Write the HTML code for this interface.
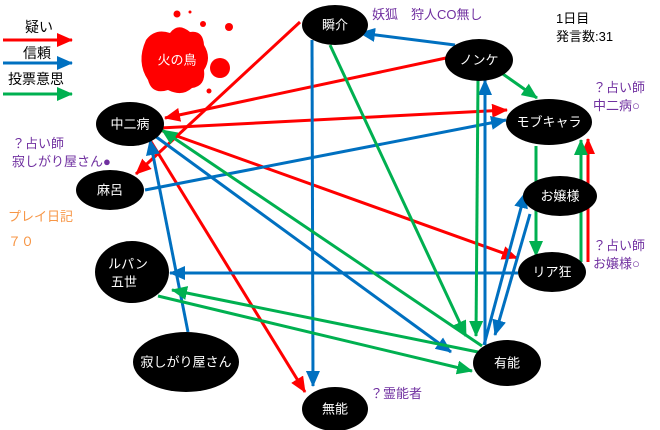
<!DOCTYPE html>
<html><head><meta charset="utf-8"><style>
body{margin:0;background:#fff}
svg{display:block;font-family:"Liberation Sans","Noto Sans CJK JP",sans-serif}
.n{fill:#000}
.t{fill:#fff;font-size:13px;text-anchor:middle;dominant-baseline:central}
.p{fill:#7030a0;font-size:13px}
</style></head><body>
<svg width="660" height="430" viewBox="0 0 660 430">
<defs>
<marker id="r" markerUnits="userSpaceOnUse" markerWidth="16" markerHeight="14" refX="15" refY="7" orient="auto"><path d="M0,0L16,7L0,14z" fill="#ff0000"/></marker>
<marker id="b" markerUnits="userSpaceOnUse" markerWidth="16" markerHeight="14" refX="15" refY="7" orient="auto"><path d="M0,0L16,7L0,14z" fill="#0070c0"/></marker>
<marker id="g" markerUnits="userSpaceOnUse" markerWidth="16" markerHeight="14" refX="15" refY="7" orient="auto"><path d="M0,0L16,7L0,14z" fill="#00b050"/></marker>
</defs>
<!-- legend -->
<text x="25" y="32" font-size="14">疑い</text>
<line x1="3" y1="40" x2="72" y2="40" stroke="#f00" stroke-width="3" marker-end="url(#r)"/>
<text x="23" y="58" font-size="14">信頼</text>
<line x1="3" y1="63" x2="72" y2="63" stroke="#0070c0" stroke-width="3" marker-end="url(#b)"/>
<text x="8" y="84" font-size="14">投票意思</text>
<line x1="3" y1="94" x2="72" y2="94" stroke="#00b050" stroke-width="3" marker-end="url(#g)"/>
<!-- splash -->
<g fill="#f00">
<path d="M146,40 Q155,28 170,33 Q178,22 190,32 Q203,30 204,45 Q212,58 204,70 Q206,86 192,88 Q182,97 168,90 Q152,95 148,80 Q136,62 146,40z"/>
<circle cx="220" cy="68" r="10"/><circle cx="177" cy="14" r="3.5"/><circle cx="203" cy="24" r="3"/><circle cx="229" cy="27" r="4"/><circle cx="209" cy="91" r="2.5"/><circle cx="190" cy="12" r="1.5"/>
</g>
<text x="177" y="60" fill="#fff" font-size="13" text-anchor="middle" dominant-baseline="central">火の鳥</text>
<!-- edges -->
<g stroke-width="3" fill="none">
<line x1="300" y1="22" x2="136" y2="174" stroke="#f00" marker-end="url(#r)"/>
<line x1="446" y1="58" x2="165" y2="118" stroke="#f00" marker-end="url(#r)"/>
<line x1="160" y1="128" x2="507" y2="110" stroke="#f00" marker-end="url(#r)"/>
<line x1="160" y1="130" x2="517" y2="258" stroke="#f00" marker-end="url(#r)"/>
<line x1="150" y1="140" x2="305" y2="392" stroke="#f00" marker-end="url(#r)"/>
<line x1="588" y1="262" x2="588" y2="139" stroke="#f00" marker-end="url(#r)"/>
<line x1="455" y1="45" x2="360" y2="33" stroke="#0070c0" marker-end="url(#b)"/>
<line x1="312" y1="40" x2="313" y2="386" stroke="#0070c0" marker-end="url(#b)"/>
<line x1="145" y1="190" x2="506" y2="120" stroke="#0070c0" marker-end="url(#b)"/>
<line x1="188" y1="332" x2="150" y2="140" stroke="#0070c0" marker-end="url(#b)"/>
<line x1="518" y1="273" x2="170" y2="273" stroke="#0070c0" marker-end="url(#b)"/>
<line x1="155" y1="136" x2="451" y2="352" stroke="#0070c0" marker-end="url(#b)"/>
<line x1="485" y1="345" x2="485" y2="80" stroke="#0070c0" marker-end="url(#b)"/>
<line x1="484" y1="345" x2="525" y2="193" stroke="#0070c0" marker-end="url(#b)"/>
<line x1="530" y1="214" x2="495" y2="335" stroke="#0070c0" marker-end="url(#b)"/>
<line x1="500" y1="72" x2="537" y2="98" stroke="#00b050" marker-end="url(#g)"/>
<line x1="330" y1="45" x2="466" y2="336" stroke="#00b050" marker-end="url(#g)"/>
<line x1="478" y1="80" x2="476" y2="336" stroke="#00b050" marker-end="url(#g)"/>
<line x1="536" y1="146" x2="536" y2="256" stroke="#00b050" marker-end="url(#g)"/>
<line x1="581" y1="262" x2="581" y2="140" stroke="#00b050" marker-end="url(#g)"/>
<line x1="482" y1="346" x2="162" y2="130" stroke="#00b050" marker-end="url(#g)"/>
<line x1="478" y1="352" x2="172" y2="290" stroke="#00b050" marker-end="url(#g)"/>
<line x1="158" y1="296" x2="472" y2="371" stroke="#00b050" marker-end="url(#g)"/>
</g>
<!-- nodes -->
<ellipse class="n" cx="335" cy="25" rx="33" ry="20"/><text class="t" x="335" y="25">瞬介</text>
<ellipse class="n" cx="479" cy="60" rx="34" ry="21"/><text class="t" x="479" y="60">ノンケ</text>
<ellipse class="n" cx="549" cy="122" rx="43" ry="23"/><text class="t" x="549" y="122">モブキャラ</text>
<ellipse class="n" cx="560" cy="196" rx="37" ry="20"/><text class="t" x="560" y="196">お嬢様</text>
<ellipse class="n" cx="552" cy="272" rx="34" ry="20"/><text class="t" x="552" y="272">リア狂</text>
<ellipse class="n" cx="507" cy="363" rx="34" ry="23"/><text class="t" x="507" y="363">有能</text>
<ellipse class="n" cx="335" cy="409" rx="33" ry="22"/><text class="t" x="335" y="409">無能</text>
<ellipse class="n" cx="186" cy="362" rx="53" ry="30"/><text class="t" x="186" y="362">寂しがり屋さん</text>
<ellipse class="n" cx="132" cy="272" rx="37" ry="31"/><text class="t" x="128" y="264">ルパン</text><text class="t" x="124" y="282">五世</text>
<ellipse class="n" cx="110" cy="190" rx="34" ry="20"/><text class="t" x="110" y="190">麻呂</text>
<ellipse class="n" cx="130" cy="124" rx="34" ry="22"/><text class="t" x="130" y="124">中二病</text>
<!-- labels -->
<text class="p" x="372" y="19">妖狐　狩人CO無し</text>
<text x="556" y="23" font-size="13">1日目</text>
<text x="556" y="41" font-size="13">発言数:31</text>
<text class="p" x="593" y="92">？占い師</text>
<text class="p" x="593" y="110">中二病○</text>
<text class="p" x="12" y="148">？占い師</text>
<text class="p" x="12" y="166">寂しがり屋さん●</text>
<text x="8" y="221" font-size="13" fill="#f79646">プレイ日記</text>
<text x="8" y="246" font-size="13" fill="#f79646">７０</text>
<text class="p" x="593" y="250">？占い師</text>
<text class="p" x="593" y="268">お嬢様○</text>
<text class="p" x="370" y="398">？霊能者</text>
</svg>
</body></html>
